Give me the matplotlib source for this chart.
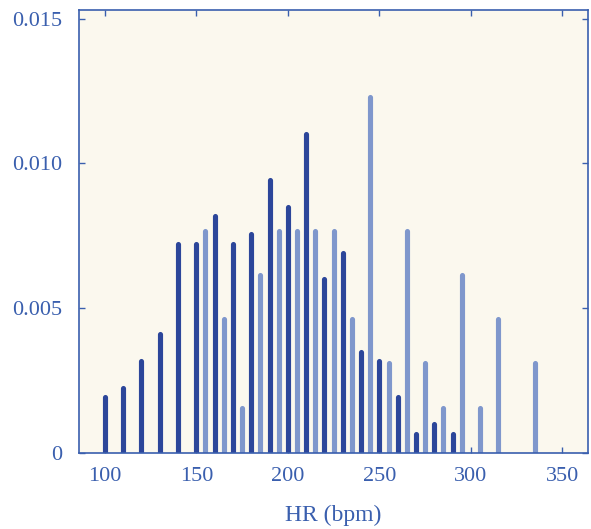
import numpy as np
import matplotlib.pyplot as plt

# dark series: every 10 bpm from 100
hr_dark = [100, 110, 120, 130, 140, 150, 160, 170, 180, 190, 200, 210, 220,
           230, 240, 250, 260, 270, 280, 290, 300, 310, 320, 330, 340, 350, 360]
p_dark = [0.00192, 0.00223, 0.00317, 0.0041, 0.00723, 0.00723, 0.00817,
          0.00723, 0.00755, 0.00943, 0.00849, 0.0110, 0.00599, 0.00692,
          0.00349, 0.00317, 0.00192, 0.00065, 0.00098, 0.00065,
          0, 0, 0, 0, 0, 0, 0]

# light series: offset by 5 bpm
hr_light = [155, 165, 175, 185, 195, 205, 215, 225, 235, 245, 255, 265,
            275, 285, 295, 305, 315, 335]
p_light = [0.00767, 0.00462, 0.00156, 0.00614, 0.00767, 0.00767, 0.00767,
           0.00767, 0.00462, 0.01228, 0.00309, 0.00767, 0.00309, 0.00156,
           0.00614, 0.00156, 0.00462, 0.00309]

x_ticks = [100, 150, 200, 250, 300, 350]
y_ticks = [0, 0.005, 0.010, 0.015]
y_ticklabels = ['0', '0.005', '0.010', '0.015']

dark = '#2c469a'
light = '#7f97cc'
blue = '#3a5fae'

plt.rcParams['font.family'] = ['Liberation Serif', 'DejaVu Serif']

fig = plt.figure(figsize=(5.91, 5.29), dpi=100)
ax = fig.add_axes([0.134, 0.144, 0.861, 0.837])
ax.set_facecolor('#fbf8ee')

ax.vlines(hr_light, 0, p_light, colors=light, linewidth=3.7, capstyle='round')
ax.vlines(hr_dark, 0, p_dark, colors=dark, linewidth=3.7, capstyle='round')

ax.set_xlim(86, 364)
ax.set_ylim(0, 0.0153)
ax.set_xticks(x_ticks)
ax.set_yticks(y_ticks)
ax.set_yticklabels(y_ticklabels)

for s in ax.spines.values():
    s.set_color(blue)
    s.set_linewidth(1.2)
ax.tick_params(direction='in', length=4, width=1, color=blue, labelcolor=blue,
               labelsize=16, top=True, right=True)
ax.tick_params(axis='x', pad=10)
ax.tick_params(axis='y', pad=12)
ax.set_xlabel('HR (bpm)', color=blue, fontsize=17, labelpad=14)

fig.savefig('out.png', dpi=100)
